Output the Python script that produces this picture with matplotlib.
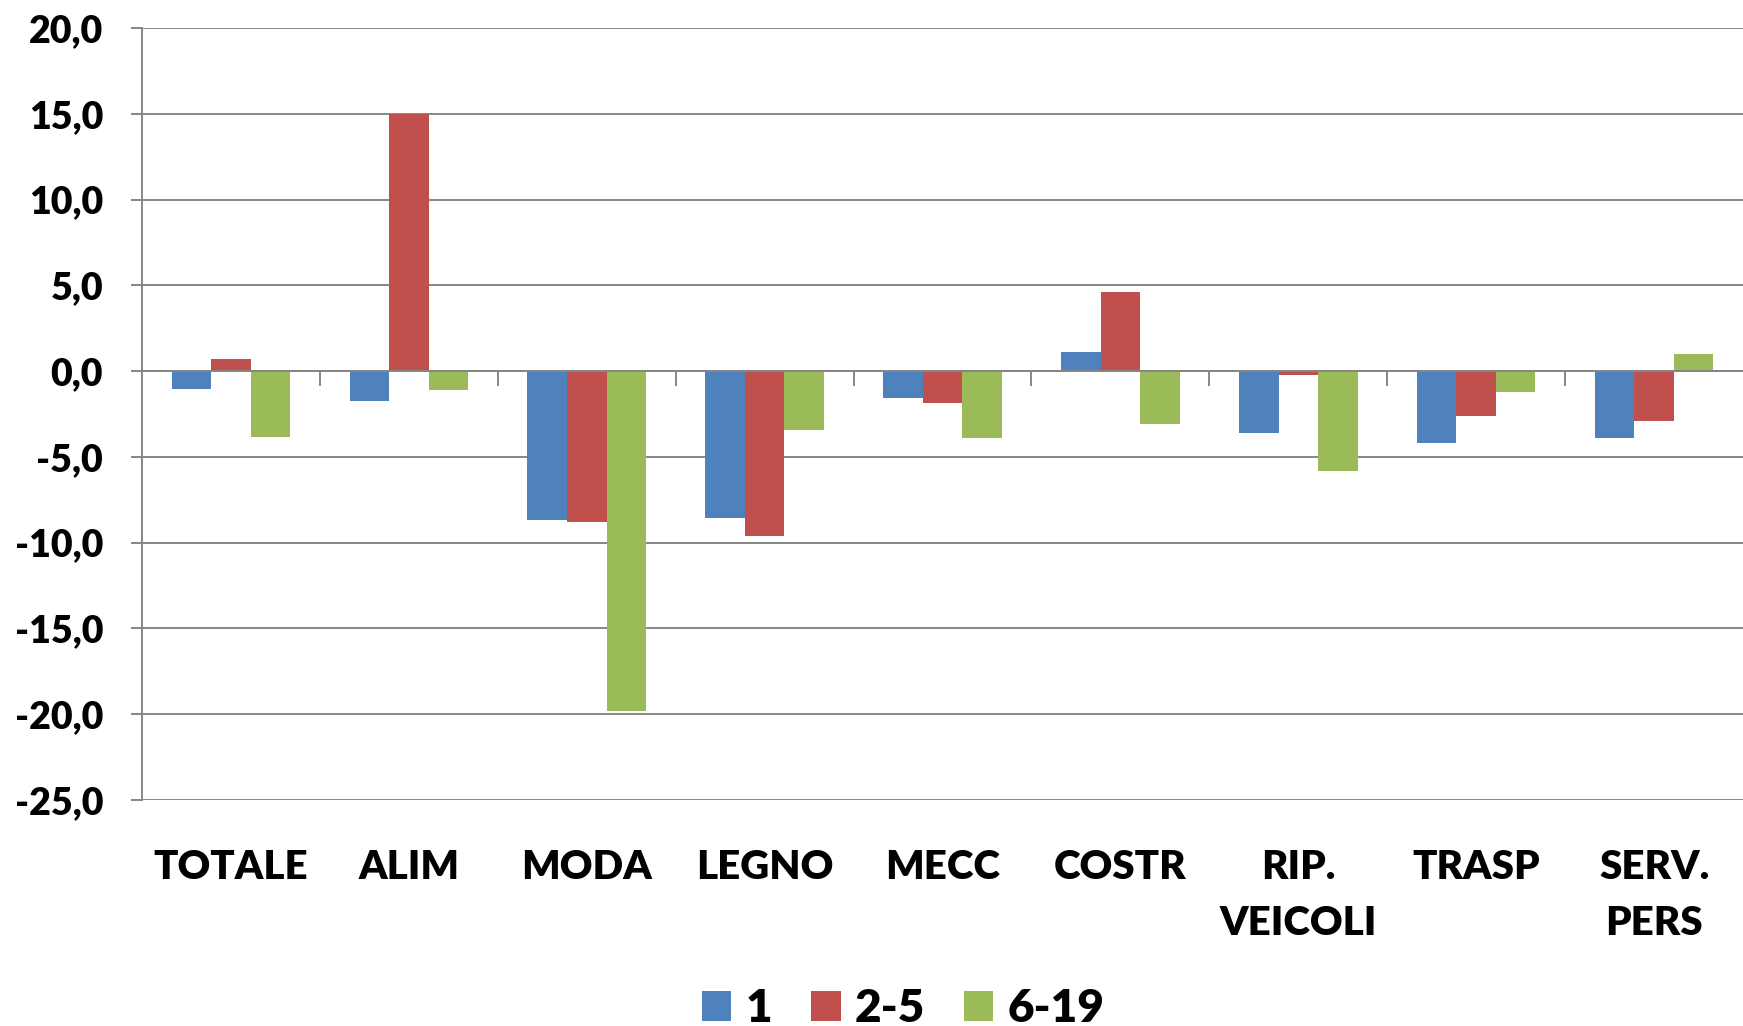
import numpy as np
import matplotlib
matplotlib.use('Agg')
import matplotlib.pyplot as plt
from matplotlib.ticker import FuncFormatter

categorie = ['TOTALE', 'ALIM', 'MODA', 'LEGNO', 'MECC', 'COSTR',
             'RIP.\nVEICOLI', 'TRASP', 'SERV.\nPERS']
serie = ['1', '2-5', '6-19']
val_1 = [-1.05, -1.75, -8.68, -8.59, -1.55, 1.12, -3.62, -4.17, -3.90]
val_2_5 = [0.72, 15.0, -8.77, -9.59, -1.88, 4.61, -0.25, -2.60, -2.93]
val_6_19 = [-3.85, -1.11, -19.8, -3.43, -3.88, -3.08, -5.81, -1.22, 1.01]
colori = ['#4F81BD', '#C0504D', '#9BBB59']

plt.rcParams['font.family'] = ['Lato', 'DejaVu Sans']
plt.rcParams['font.weight'] = 'heavy'

fig = plt.figure(figsize=(17.43, 10.26), dpi=100)
ax = fig.add_axes([0.0815, 0.2203, 0.9185, 0.7524])

x = np.arange(len(categorie))
w = 1 / 4.5
for k, vals in enumerate([val_1, val_2_5, val_6_19]):
    ax.bar(x + (k - 1) * w, vals, w, color=colori[k], label=serie[k], zorder=3)

gray = '#868686'
ax.set_xlim(-0.5, len(categorie) - 0.5)
ax.set_ylim(-25, 20)
ax.set_yticks(np.arange(-25, 21, 5))
ax.yaxis.set_major_formatter(FuncFormatter(lambda v, p: f'{v:.1f}'.replace('.', ',')))
ax.grid(axis='y', color=gray, linewidth=1.4, zorder=0)
ax.tick_params(axis='y', length=8, width=1.4, color=gray, labelsize=27, pad=20)

# asse orizzontale sullo zero con tacche tra le categorie
for s in ['top', 'right']:
    ax.spines[s].set_visible(False)
ax.spines['left'].set_color(gray)
ax.spines['left'].set_linewidth(1.4)
ax.spines['bottom'].set_position(('data', 0))
ax.spines['bottom'].set_color(gray)
ax.spines['bottom'].set_linewidth(1.4)
ax.spines['bottom'].set_zorder(4)
ax.set_xticks(x[:-1] + 0.5)
ax.set_xticklabels([])
ax.tick_params(axis='x', length=11, width=1.4, color=gray, direction='out')

# etichette categorie in basso
sec = ax.secondary_xaxis('bottom')
sec.set_xticks(x)
sec.set_xticklabels(categorie, fontsize=29, fontweight='heavy', linespacing=1.65, va='top')
sec.tick_params(length=0, pad=35)
sec.spines['bottom'].set_visible(False)

fig.legend(loc='center', bbox_to_anchor=(0.518, 0.017), ncol=3, frameon=False,
           prop={'size': 33, 'weight': 'heavy'}, handlelength=0.65, handleheight=0.65,
           handletextpad=0.3, columnspacing=0.85)

fig.savefig('out.png', dpi=100)
